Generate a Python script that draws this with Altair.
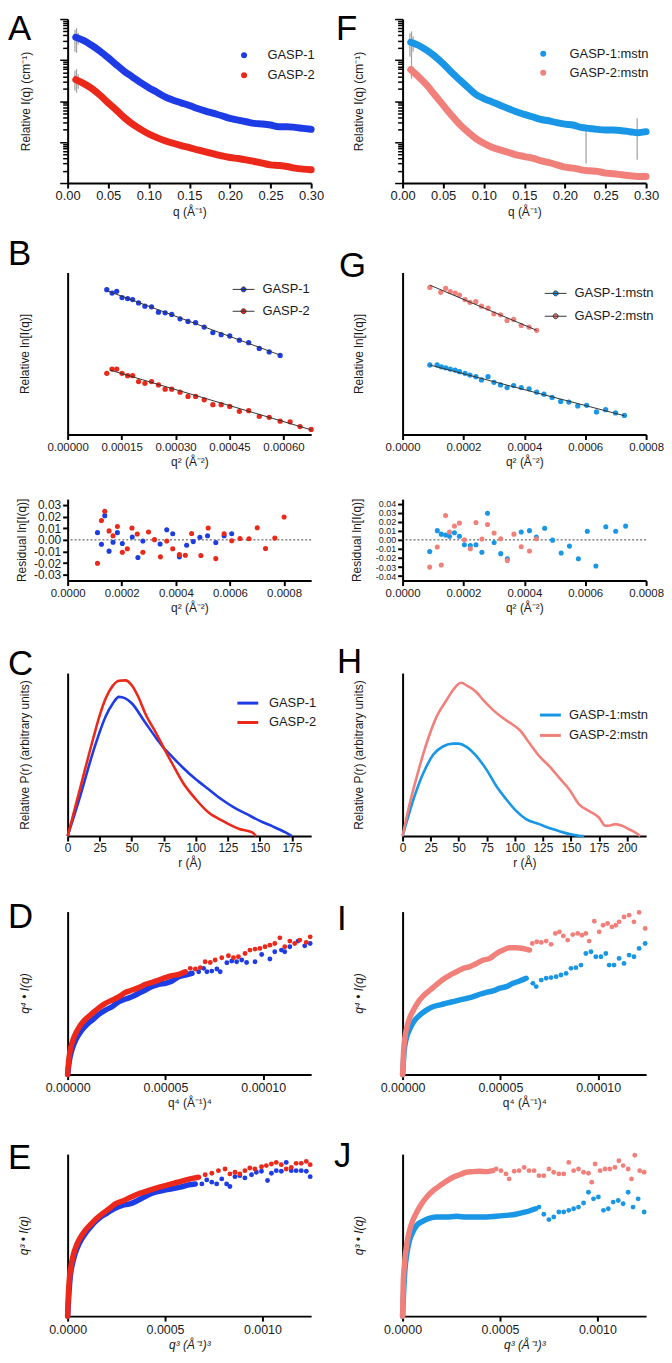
import altair as alt
import pandas as pd

FONT = "Liberation Sans"
LETTER_FONT = "Liberation Sans"
INK = "#1a1a1a"

SER_L = ["GASP-1", "GASP-2"]
SER_R = ["GASP-1:mstn", "GASP-2:mstn"]
COL_L = ["#1e3ce6", "#eb2819"]
COL_R = ["#1996e6", "#f2807a"]

W = 245
H_A, H_B, H_R, H_C, H_D, H_E = 165, 163, 82, 164, 164, 163

# ---------------- A / F : scattering profiles (log intensity) ----------------
q_saxs = [0.01, 0.02, 0.03, 0.04, 0.05, 0.06, 0.07, 0.08, 0.09, 0.10,
          0.11, 0.12, 0.13, 0.14, 0.15, 0.16, 0.17, 0.18, 0.19, 0.20,
          0.21, 0.22, 0.23, 0.24, 0.25, 0.26, 0.27, 0.28, 0.29, 0.30]
I_A_g1 = [3.60, 2.98, 2.26, 1.64, 1.135, 0.767, 0.528, 0.385, 0.281, 0.212,
          0.164, 0.126, 0.105, 0.0903, 0.0778, 0.0658, 0.0568, 0.0498, 0.0437, 0.0377,
          0.0343, 0.0313, 0.0285, 0.0275, 0.0260, 0.0237, 0.0237, 0.0228, 0.0215, 0.0204]
I_A_g2 = [0.332, 0.2655, 0.201, 0.1384, 0.0903, 0.0600, 0.0391, 0.0274, 0.0204, 0.0157,
          0.0128, 0.0108, 0.00933, 0.00818, 0.00732, 0.00643, 0.00575, 0.00514, 0.00460, 0.00419,
          0.00396, 0.00368, 0.00335, 0.00305, 0.00278, 0.00268, 0.00254, 0.00231, 0.00218, 0.00210]
I_F_m1 = [2.72, 2.26, 1.71, 1.22, 0.811, 0.509, 0.332, 0.220, 0.1466, 0.1151,
          0.0955, 0.0793, 0.0658, 0.0546, 0.0471, 0.0413, 0.0356, 0.0330, 0.0296, 0.0274,
          0.0260, 0.0228, 0.0215, 0.0204, 0.0196, 0.0196, 0.0189, 0.0179, 0.0169, 0.0179]
I_F_m2 = [0.581, 0.385, 0.242, 0.1384, 0.0793, 0.0454, 0.0274, 0.0179, 0.01233, 0.00933,
          0.00746, 0.00643, 0.00565, 0.00487, 0.00443, 0.00404, 0.00354, 0.00317, 0.00278, 0.00244,
          0.00231, 0.00210, 0.00199, 0.00192, 0.00175, 0.00168, 0.00159, 0.00151, 0.00145, 0.00145]
err_A_q = [0.009, 0.011, 0.013, 0.009, 0.011, 0.013]
err_A_lo = [1.6, 1.5, 2.4, 0.18, 0.16, 0.20]
err_A_hi = [5.5, 6.0, 4.6, 0.55, 0.60, 0.45]
err_F_q = [0.009, 0.011, 0.013, 0.011, 0.013, 0.226, 0.289]
err_F_lo = [1.2, 0.4, 1.6, 0.35, 0.45, 0.0030, 0.0037]
err_F_hi = [4.5, 5.0, 3.8, 0.75, 0.70, 0.020, 0.038]

# ---------------- B / G : Guinier plots ----------------
B_x_g1 = [0.0001088, 0.0001235, 0.0001364, 0.0001512, 0.0001668, 0.0001807, 0.0001972, 0.0002148,
          0.0002332, 0.0002525, 0.0002710, 0.0002894, 0.0003125, 0.0003346, 0.0003558, 0.0003797,
          0.0004037, 0.0004268, 0.0004507, 0.0004774, 0.0005033, 0.0005328, 0.0005604, 0.0005908]
B_y_g1 = [89.4, 87.3, 88.4, 84.5, 83.9, 83.3, 81.2, 79.2, 78.8, 75.5, 75.1, 74.1,
          71.4, 69.8, 69.0, 66.3, 62.9, 61.6, 60.8, 58.2, 56.7, 53.1, 51.0, 48.8]
B_x_g2 = [0.0001088, 0.0001235, 0.0001364, 0.0001512, 0.0001668, 0.0001807, 0.0001972, 0.0002148,
          0.0002332, 0.0002525, 0.0002710, 0.0002894, 0.0003125, 0.0003346, 0.0003558, 0.0003797,
          0.0004037, 0.0004268, 0.0004507, 0.0004774, 0.0005033, 0.0005328, 0.0005604, 0.0005908,
          0.0006185, 0.0006461, 0.0006770]
B_y_g2 = [37.8, 40.4, 40.4, 37.8, 36.3, 36.3, 32.7, 31.6, 32.7, 30.6, 28.0, 28.0, 26.1, 23.5,
          23.5, 21.4, 18.4, 18.4, 17.3, 14.3, 14.7, 11.2, 10.6, 8.2, 7.8, 4.9, 3.1]
B_fit_x_g1 = [0.0001088, 0.0005908]
B_fit_y_g1 = [88.8, 49.0]
B_fit_x_g2 = [0.0001170, 0.0006770]
B_fit_y_g2 = [39.8, 2.9]

G_x_m1 = [0.0000896, 0.0001134, 0.0001274, 0.0001414, 0.0001565, 0.0001727, 0.0001868, 0.0002051,
          0.0002213, 0.0002407, 0.0002591, 0.0002807, 0.0003001, 0.0003217, 0.0003433, 0.0003649,
          0.0003897, 0.0004156, 0.0004405, 0.0004642, 0.0004912, 0.0005193, 0.0005463, 0.0005754,
          0.0006046, 0.0006370, 0.0006672, 0.0006996, 0.0007287]
G_y_m1 = [42.9, 42.9, 41.8, 41.2, 40.4, 39.8, 38.8, 37.8, 36.7, 35.7, 33.7, 35.7, 32.2, 30.6, 29.0,
          30.2, 29.0, 28.2, 26.1, 24.9, 22.9, 20.4, 20.0, 17.6, 18.0, 13.9, 15.3, 13.3, 11.8]
G_x_m2 = [0.0000896, 0.0001252, 0.0001414, 0.0001565, 0.0001727, 0.0001868, 0.0002051, 0.0002213,
          0.0002407, 0.0002591, 0.0002807, 0.0003001, 0.0003217, 0.0003433, 0.0003649, 0.0003897,
          0.0004156, 0.0004405]
G_y_m2 = [90.8, 87.8, 90.2, 88.2, 87.3, 86.1, 83.3, 81.6, 82.0, 79.2, 78.0, 74.5, 73.9, 70.4,
          71.0, 67.3, 66.3, 64.3]
G_fit_x_m1 = [0.0000896, 0.0007287]
G_fit_y_m1 = [42.9, 11.6]
G_fit_x_m2 = [0.0000896, 0.0004405]
G_fit_y_m2 = [92.2, 64.3]

# ---------------- Guinier residuals ----------------
RL_x_g1 = [0.0001103, 0.0001250, 0.0001372, 0.0001531, 0.0001678, 0.0001838, 0.0002021, 0.0002389,
           0.0002597, 0.0002781, 0.0003418, 0.0003663, 0.0003884, 0.0004129, 0.0004398, 0.0004643,
           0.0004888, 0.0005170, 0.0005476, 0.0005783, 0.0006064]
RL_y_g1 = [0.0062, -0.0037, 0.0208, -0.0097, -0.0020, 0.0062, -0.0032, 0.0025, -0.0151, -0.0010,
           -0.0035, 0.0087, 0.0052, -0.0146, -0.0047, -0.0015, 0.0022, 0.0035, -0.0022, 0.0035, 0.0052]
RL_x_g2 = [0.0001103, 0.0001250, 0.0001372, 0.0001531, 0.0001678, 0.0001838, 0.0002021, 0.0002205,
           0.0002377, 0.0002573, 0.0002781, 0.0002989, 0.0003210, 0.0003430, 0.0003663, 0.0003884,
           0.0004129, 0.0004349, 0.0004582, 0.0004925, 0.0005195, 0.0005476, 0.0005783, 0.0006064,
           0.0006371, 0.0006701, 0.0007008, 0.0007314, 0.0007657, 0.0008000]
RL_y_g2 = [-0.0201, 0.0166, 0.0246, 0.0077, 0.0035, 0.0114, -0.0107, -0.0077, 0.0102, 0.0050,
           -0.0107, 0.0067, 0.0002, -0.0146, -0.0010, -0.0077, -0.0127, -0.0132, 0.0055, -0.0134,
           0.0102, -0.0161, 0.0052, -0.0007, 0.0012, 0.0010, 0.0104, -0.0074, 0.0015, 0.0196]
RR_x_m1 = [0.0000890, 0.0001140, 0.0001270, 0.0001411, 0.0001541, 0.0001704, 0.0001867, 0.0002030,
           0.0002225, 0.0002410, 0.0002605, 0.0002790, 0.0003007, 0.0003224, 0.0003441, 0.0003897,
           0.0004168, 0.0004396, 0.0004668, 0.0004928, 0.0005210, 0.0005482, 0.0005775, 0.0006068,
           0.0006350, 0.0006676, 0.0007001, 0.0007327]
RR_y_m1 = [-0.0129, 0.0102, 0.0063, 0.0053, 0.0040, 0.0079, 0.0040, -0.0053, -0.0063, -0.0053,
           -0.0136, 0.0294, -0.0030, -0.0152, -0.0208, 0.0086, 0.0102, 0.0030, 0.0129, -0.0003,
           -0.0145, -0.0069, -0.0208, 0.0096, -0.0288, 0.0145, 0.0096, 0.0152]
RR_x_m2 = [0.0000890, 0.0001140, 0.0001270, 0.0001411, 0.0001541, 0.0001704, 0.0001867, 0.0002030,
           0.0002225, 0.0002410, 0.0002605, 0.0002790, 0.0003007, 0.0003224, 0.0003441, 0.0003658,
           0.0003897, 0.0004168, 0.0004396]
RR_y_m2 = [-0.0301, -0.0079, -0.0278, 0.0268, 0.0086, 0.0152, 0.0185, 0.0000, -0.0099, 0.0192,
           0.0010, 0.0169, 0.0076, 0.0013, -0.0228, 0.0063, -0.0076, -0.0122, 0.0013]

# ---------------- C / H : P(r) distributions ----------------
C_r_g1 = [0, 10, 20, 30, 35, 40, 45, 50, 60, 70, 75, 80, 90, 100, 110, 120, 130, 140, 150, 160, 170, 175]
C_p_g1 = [0, 25, 52, 74, 81, 85.4, 84.5, 81.5, 70.3, 59.1, 54, 50, 41.9, 34.8, 28.7, 22.6, 17.5,
          13.4, 9.3, 5.9, 2.2, 0]
C_r_g2 = [0, 5, 10, 20, 25, 30, 35, 40, 45, 50, 55, 61, 69, 75, 82, 90, 100, 110, 121, 134, 144, 147]
C_p_g2 = [0, 15, 30, 60, 74, 85, 92, 95.3, 95.5, 92.5, 85.6, 74.4, 63.2, 54.1, 43.9, 32.7, 22.6,
          14.4, 9.3, 4.3, 2.2, 0]
H_r_m1 = [0, 9.7, 18.6, 27.4, 36.3, 45.1, 49.6, 56.9, 65.8, 74.6, 83.5, 92.3, 101.2, 110, 121.8,
          133.6, 145.4, 157.2, 161.7]
H_p_m1 = [0, 22.6, 38.8, 50, 55.1, 56.7, 56.7, 54.7, 49, 40.9, 30.7, 22.6, 15.4, 10.4, 7.3, 4.3,
          1.8, 0.2, 0]
H_r_m2 = [0, 5, 12.7, 21.5, 30.4, 39.2, 45, 52, 58, 65.7, 71.7, 80.5, 89.4, 98.2, 104.1, 113,
          121.8, 130.7, 139.5, 148.4, 157.2, 166.1, 174.9, 180.8, 185, 189.7, 195.6, 201.5, 207.4, 211.8]
H_p_m2 = [0, 16, 36.6, 57.1, 73.4, 83.5, 89.6, 94, 92, 88.4, 83.5, 77.4, 72.4, 68.3, 65.2, 57.1,
          49, 42.9, 35.8, 28.7, 19.5, 15.4, 11.4, 6.3, 6.5, 7.3, 6.3, 4.3, 2.2, 0]

# ---------------- D / I : q^4 * I(q) vs q^4 ----------------
D_bx_g1 = [0, 0.085e-5, 0.22e-5, 0.42e-5, 0.68e-5, 0.97e-5, 1.27e-5, 1.61e-5, 1.95e-5, 2.29e-5, 2.63e-5,
           2.97e-5, 3.31e-5, 3.64e-5, 3.98e-5, 4.32e-5, 4.66e-5, 5.0e-5, 5.34e-5, 5.68e-5, 6.02e-5, 6.36e-5]
D_by_g1 = [0, 8.1, 15.3, 21.4, 26.5, 30.5, 33.6, 37.1, 39.7, 41.8, 44.8, 46.4, 47.9, 49.9, 51.9, 54.0,
           55.4, 56.0, 57.4, 60.1, 61.1, 62.1]
D_px_g1 = [6.70e-5, 6.95e-5, 7.12e-5, 7.37e-5, 7.63e-5, 7.80e-5, 8.14e-5, 8.39e-5, 8.64e-5, 8.90e-5,
           9.15e-5, 9.58e-5, 9.92e-5, 10.34e-5, 10.59e-5, 10.93e-5, 11.10e-5, 11.36e-5, 11.78e-5,
           12.12e-5, 12.40e-5]
D_py_g1 = [63.1, 65.2, 63.1, 63.5, 64.8, 63.1, 68.6, 69.7, 69.2, 70.3, 68.8, 69.2, 73.7, 70.9, 75.4,
           76.4, 75.4, 78.4, 81.9, 79.0, 80.4]
D_bx_g2 = [0, 0.05e-5, 0.12e-5, 0.22e-5, 0.34e-5, 0.51e-5, 0.73e-5, 0.97e-5, 1.27e-5, 1.61e-5, 1.95e-5,
           2.29e-5, 2.63e-5, 2.97e-5, 3.31e-5, 3.64e-5, 3.98e-5, 4.32e-5, 4.66e-5, 5.0e-5, 5.34e-5,
           5.68e-5, 6.02e-5]
D_by_g2 = [0, 8.1, 14.3, 19.3, 23.4, 27.5, 31.6, 34.6, 37.7, 41.1, 43.8, 45.8, 47.9, 50.5, 51.9, 53.4,
           55.4, 56.6, 58.0, 59.5, 60.7, 61.5, 63.1]
D_px_g2 = [6.27e-5, 6.53e-5, 6.78e-5, 7.03e-5, 7.29e-5, 7.54e-5, 7.88e-5, 8.22e-5, 8.48e-5, 8.73e-5,
           9.07e-5, 9.32e-5, 9.58e-5, 9.83e-5, 10.09e-5, 10.34e-5, 10.59e-5, 10.85e-5, 11.10e-5,
           11.36e-5, 11.61e-5, 11.87e-5, 12.20e-5, 12.40e-5]
D_py_g2 = [65.2, 64.8, 65.6, 69.2, 68.8, 70.3, 71.7, 72.9, 71.7, 72.3, 74.3, 76.4, 77.0, 77.4, 78.4,
           79.4, 80.4, 83.9, 78.4, 81.9, 80.4, 82.5, 81.1, 84.5]

I_bx_m1 = [0, 0.08e-5, 0.19e-5, 0.31e-5, 0.47e-5, 0.64e-5, 0.90e-5, 1.24e-5, 1.58e-5, 1.92e-5, 2.25e-5,
           2.59e-5, 2.93e-5, 3.27e-5, 3.61e-5, 3.95e-5, 4.29e-5, 4.63e-5, 4.97e-5, 5.31e-5, 5.64e-5,
           5.98e-5, 6.32e-5]
I_by_m1 = [0, 14.3, 22.4, 26.5, 30.5, 33.6, 36.7, 39.7, 41.8, 42.8, 43.8, 44.8, 45.8, 46.8, 47.9, 49.3,
           50.5, 51.3, 53.0, 54.0, 56.0, 57.4, 59.1]
I_px_m1 = [6.66e-5, 6.83e-5, 7.09e-5, 7.34e-5, 7.59e-5, 7.85e-5, 8.10e-5, 8.36e-5, 8.61e-5, 8.86e-5,
           9.12e-5, 9.37e-5, 9.63e-5, 9.88e-5, 10.14e-5, 10.39e-5, 10.56e-5, 10.81e-5, 11.07e-5,
           11.32e-5, 11.58e-5, 11.83e-5, 12.09e-5, 12.40e-5]
I_py_m1 = [56.0, 54.0, 58.0, 59.1, 59.5, 60.1, 61.1, 62.1, 65.2, 65.6, 67.2, 74.3, 75.4, 72.3, 72.3,
           74.3, 67.2, 67.2, 71.3, 68.2, 73.3, 72.3, 77.4, 80.4]
I_bx_m2 = [0, 0.05e-5, 0.14e-5, 0.25e-5, 0.39e-5, 0.56e-5, 0.81e-5, 1.07e-5, 1.41e-5, 1.75e-5, 2.08e-5,
           2.42e-5, 2.76e-5, 3.10e-5, 3.44e-5, 3.78e-5, 4.12e-5, 4.46e-5, 4.80e-5, 5.14e-5, 5.47e-5,
           5.81e-5, 6.15e-5, 6.49e-5]
I_by_m2 = [0, 14.3, 24.4, 30.5, 35.6, 39.7, 44.8, 48.5, 51.9, 55.4, 58.5, 61.1, 63.1, 65.2, 66.2, 68.2,
           70.3, 71.3, 74.3, 76.4, 77.8, 77.8, 77.4, 76.4]
I_px_m2 = [6.63e-5, 6.86e-5, 7.09e-5, 7.34e-5, 7.59e-5, 7.81e-5, 8.02e-5, 8.22e-5, 8.44e-5, 8.70e-5,
           8.95e-5, 9.17e-5, 9.37e-5, 9.54e-5, 9.80e-5, 10.05e-5, 10.25e-5, 10.48e-5, 10.70e-5,
           10.90e-5, 11.07e-5, 11.32e-5, 11.58e-5, 11.83e-5, 12.09e-5, 12.40e-5]
I_py_m2 = [80.4, 81.5, 81.1, 81.9, 79.9, 86.6, 87.6, 85.1, 82.5, 85.9, 86.6, 85.5, 86.6, 81.9, 94.1,
           87.6, 91.6, 92.7, 90.6, 91.6, 93.7, 96.7, 97.8, 93.7, 99.5, 89.6]

# ---------------- E / J : q^3 * I(q) vs q^3 ----------------
E_bx_g1 = [0, 0.068e-4, 0.136e-4, 0.255e-4, 0.39e-4, 0.60e-4, 0.85e-4, 1.11e-4, 1.41e-4, 1.70e-4,
           2.04e-4, 2.38e-4, 2.81e-4, 3.23e-4, 3.66e-4, 4.08e-4, 4.51e-4, 4.93e-4, 5.36e-4, 5.78e-4,
           6.21e-4, 6.55e-4]
E_by_g1 = [0, 14.3, 24.5, 32.7, 38.8, 44.9, 50.0, 54.1, 58.2, 61.2, 63.7, 66.3, 68.4, 69.4, 71.8, 74.5,
           76.5, 77.6, 78.6, 79.6, 81.0, 81.6]
E_px_g1 = [6.89e-4, 7.14e-4, 7.40e-4, 7.65e-4, 7.91e-4, 8.16e-4, 8.33e-4, 8.59e-4, 8.84e-4, 9.10e-4,
           9.44e-4, 9.69e-4, 9.95e-4, 10.26e-4, 10.46e-4, 10.71e-4, 10.97e-4, 11.22e-4, 11.48e-4,
           11.73e-4, 11.99e-4, 12.25e-4, 12.45e-4]
E_py_g1 = [81.6, 84.1, 82.7, 81.6, 84.7, 81.6, 80.0, 86.1, 86.7, 85.3, 87.3, 88.8, 89.4, 83.7, 88.2,
           89.8, 89.4, 94.9, 89.8, 89.8, 89.8, 89.4, 86.1]
E_bx_g2 = [0, 0.034e-4, 0.085e-4, 0.17e-4, 0.29e-4, 0.46e-4, 0.68e-4, 0.94e-4, 1.19e-4, 1.48e-4,
           1.79e-4, 2.13e-4, 2.47e-4, 2.89e-4, 3.32e-4, 3.74e-4, 4.17e-4, 4.59e-4, 5.02e-4, 5.44e-4,
           5.87e-4, 6.29e-4, 6.72e-4]
E_by_g2 = [0, 12.2, 22.4, 30.6, 37.8, 43.9, 49.0, 53.5, 56.7, 60.2, 63.3, 66.3, 69.4, 71.4, 73.9, 75.9,
           77.6, 79.2, 80.6, 82.0, 83.3, 84.7, 85.7]
E_px_g2 = [7.06e-4, 7.40e-4, 7.74e-4, 8.08e-4, 8.33e-4, 8.59e-4, 8.84e-4, 9.10e-4, 9.35e-4, 9.61e-4,
           9.95e-4, 10.20e-4, 10.46e-4, 10.71e-4, 10.97e-4, 11.22e-4, 11.48e-4, 11.73e-4, 11.99e-4,
           12.25e-4, 12.45e-4]
E_py_g2 = [87.3, 88.2, 89.8, 90.8, 87.8, 88.8, 87.8, 89.8, 91.4, 90.8, 92.2, 92.9, 93.9, 94.9, 93.5,
           90.8, 91.8, 94.3, 94.3, 95.5, 93.5]

J_bx_m1 = [0, 0.05e-4, 0.12e-4, 0.22e-4, 0.36e-4, 0.53e-4, 0.73e-4, 0.98e-4, 1.32e-4, 1.75e-4, 2.25e-4,
           2.76e-4, 3.27e-4, 3.78e-4, 4.29e-4, 4.80e-4, 5.31e-4, 5.81e-4, 6.32e-4, 6.83e-4]
J_by_m1 = [0, 14.3, 28.6, 38.8, 46.9, 52.0, 56.1, 58.2, 60.2, 61.2, 61.2, 61.6, 61.2, 61.2, 61.2, 61.6,
           62.2, 62.9, 64.3, 66.3]
J_px_m1 = [7.00e-4, 7.25e-4, 7.51e-4, 7.76e-4, 8.02e-4, 8.27e-4, 8.53e-4, 8.78e-4, 9.03e-4, 9.29e-4,
           9.54e-4, 9.80e-4, 10.05e-4, 10.31e-4, 10.56e-4, 10.81e-4, 11.07e-4, 11.32e-4, 11.58e-4,
           11.83e-4, 12.09e-4, 12.40e-4]
J_py_m1 = [67.3, 62.9, 59.6, 61.2, 64.3, 64.3, 65.3, 66.3, 67.3, 69.8, 76.5, 72.4, 73.5, 65.3, 66.3,
           70.4, 71.4, 69.4, 76.5, 67.3, 72.4, 64.3]
J_bx_m2 = [0, 0.034e-4, 0.10e-4, 0.22e-4, 0.36e-4, 0.53e-4, 0.73e-4, 0.98e-4, 1.24e-4, 1.58e-4, 1.92e-4,
           2.25e-4, 2.59e-4, 2.93e-4, 3.27e-4, 3.61e-4, 3.95e-4, 4.29e-4, 4.63e-4]
J_by_m2 = [0, 20.4, 32.7, 44.9, 53.1, 59.2, 64.3, 69.4, 73.5, 77.6, 80.6, 83.3, 85.7, 87.3, 88.8, 89.2,
           89.4, 89.2, 89.8]
J_px_m2 = [4.80e-4, 5.05e-4, 5.31e-4, 5.47e-4, 5.73e-4, 5.98e-4, 6.24e-4, 6.49e-4, 6.75e-4, 7.00e-4,
           7.25e-4, 7.51e-4, 7.76e-4, 8.02e-4, 8.27e-4, 8.53e-4, 8.78e-4, 9.03e-4, 9.29e-4, 9.54e-4,
           9.71e-4, 9.88e-4, 10.14e-4, 10.39e-4, 10.64e-4, 10.90e-4, 11.10e-4, 11.32e-4, 11.58e-4,
           11.75e-4, 11.92e-4, 12.17e-4, 12.40e-4]
J_py_m2 = [90.8, 89.8, 87.8, 84.7, 89.4, 89.8, 91.8, 89.8, 89.8, 86.7, 86.7, 90.8, 88.8, 87.8, 87.8,
           94.9, 89.8, 90.8, 88.8, 88.2, 82.7, 93.9, 89.8, 90.8, 90.8, 91.8, 95.9, 92.9, 90.8, 84.7,
           99.3, 89.8, 88.8]

# ---------------- axis tick lists ----------------
ticks_q = [0, 0.05, 0.10, 0.15, 0.20, 0.25, 0.30]
ticks_log = [m * d for d in [0.001, 0.01, 0.1, 1] for m in range(1, 10)] + [10]
ticks_B = [0, 0.00015, 0.0003, 0.00045, 0.0006]
ticks_G = [0, 0.0002, 0.0004, 0.0006, 0.0008]
ticks_res_x = [0, 0.0002, 0.0004, 0.0006, 0.0008]
ticks_resL_y = [-0.03, -0.02, -0.01, 0, 0.01, 0.02, 0.03]
ticks_resR_y = [-0.04, -0.03, -0.02, -0.01, 0, 0.01, 0.02, 0.03, 0.04]
ticks_C = [0, 25, 50, 75, 100, 125, 150, 175]
ticks_H = [0, 25, 50, 75, 100, 125, 150, 175, 200]
ticks_D = [0, 0.00005, 0.0001]
ticks_E = [0, 0.0005, 0.001]

MAJOR_TEST = "abs(log(datum.value)/LN10 - round(log(datum.value)/LN10)) < 0.001"
LINE_DOT = "M-2,0L2,0M-0.45,0A0.45,0.45,0,1,0,0.45,0A0.45,0.45,0,1,0,-0.45,0Z"
LINE_ONLY = "M-2,0L2,0"

one = pd.DataFrame({"k": [0]})


def xaxis(title, values, fmt, italic=False, lsize=12):
    return alt.Axis(title=title, values=values, format=fmt, grid=False,
                    domainColor="black", domainWidth=2, tickColor="black", tickWidth=2, tickSize=5,
                    labelFont=FONT, labelFontSize=lsize, labelColor=INK, labelPadding=2,
                    labelFlush=False, labelOverlap=False,
                    titleFont=FONT, titleFontSize=12, titleFontWeight="normal", titleColor=INK,
                    titleFontStyle="italic" if italic else "normal", titlePadding=4)


def yaxis_plain(title, h, tx, italic=False):
    return alt.Axis(title=title, labels=False, ticks=False, grid=False,
                    domainColor="black", domainWidth=2,
                    titleFont=FONT, titleFontSize=12, titleFontWeight="normal", titleColor=INK,
                    titleFontStyle="italic" if italic else "normal",
                    titleAngle=270, titleAlign="center", titleBaseline="bottom",
                    titleX=tx, titleY=h / 2)


def legend(**kw):
    base = dict(orient="none", title=None, labelFont=FONT, labelFontSize=13, labelColor=INK, padding=0)
    base.update(kw)
    return alt.Legend(**base)


def letter(ch, dx, dy):
    return alt.Chart(one).mark_text(text=ch, font=LETTER_FONT, fontSize=35, align="left",
                                    baseline="alphabetic", color="black").encode(
        x=alt.value(dx), y=alt.value(dy))


def long_df(xs_list, ys_list, names):
    rows = []
    for xs, ys, n in zip(xs_list, ys_list, names):
        rows += [{"x": a, "y": b, "s": n} for a, b in zip(xs, ys)]
    return pd.DataFrame(rows)


def saxs_panel(ys, names, cols, err, leg, let, ytx):
    xsc = alt.Scale(domain=[0, 0.3], nice=False, zero=False)
    ysc = alt.Scale(type="log", domain=[0.001, 10], nice=False)
    xax = xaxis("q (Å⁻¹)", ticks_q, ".2f", lsize=13)
    yax = alt.Axis(title="Relative I(q) (cm⁻¹)", values=ticks_log, labels=False, grid=False,
                   domainColor="black", domainWidth=2, tickColor="black", tickWidth=1.5,
                   tickSize={"condition": {"test": MAJOR_TEST, "value": 8}, "value": 5},
                   titleFont=FONT, titleFontSize=12, titleFontWeight="normal", titleColor=INK,
                   titleAngle=270, titleAlign="center", titleBaseline="bottom",
                   titleX=ytx, titleY=H_A / 2)
    df = long_df([q_saxs, q_saxs], ys, names)
    dferr = pd.DataFrame({"x": err[0], "lo": err[1], "hi": err[2]})
    cs = alt.Scale(domain=names, range=cols)
    e = alt.Chart(dferr).mark_rule(color="#a0a0a0", strokeWidth=1.2).encode(
        x=alt.X("x:Q", scale=xsc, axis=xax), y=alt.Y("lo:Q", scale=ysc, axis=yax), y2="hi:Q")
    p = alt.Chart(df).mark_circle(size=30, opacity=1).encode(
        x=alt.X("x:Q", scale=xsc, axis=xax), y=alt.Y("y:Q", scale=ysc, axis=yax),
        color=alt.Color("s:N", scale=cs, legend=leg))
    b = alt.Chart(df).mark_line(strokeWidth=7, interpolate="monotone", strokeCap="round",
                                strokeJoin="round").encode(
        x=alt.X("x:Q", scale=xsc, axis=xax), y=alt.Y("y:Q", scale=ysc, axis=yax),
        color=alt.Color("s:N", scale=cs, legend=None))
    return alt.layer(e, p, b, letter(*let)).properties(width=W, height=H_A)


def guinier_panel(pts, fits, names, cols, xdom, xticks, xfmt, leg, let, ytx):
    xsc = alt.Scale(domain=[0, xdom], nice=False, zero=False)
    ysc = alt.Scale(domain=[0, 100], nice=False, zero=False)
    xax = xaxis("q² (Å⁻²)", xticks, xfmt, lsize=11.5)
    yax = yaxis_plain("Relative ln[I(q)]", H_B, ytx)
    cs = alt.Scale(domain=names, range=cols)
    dfp = long_df([pts[0], pts[2]], [pts[1], pts[3]], names)
    dff = long_df([fits[0], fits[2]], [fits[1], fits[3]], names)
    p = alt.Chart(dfp).mark_circle(size=28, opacity=1).encode(
        x=alt.X("x:Q", scale=xsc, axis=xax), y=alt.Y("y:Q", scale=ysc, axis=yax),
        color=alt.Color("s:N", scale=cs, legend=leg))
    f = alt.Chart(dff).mark_line(color="#333333", strokeWidth=1).encode(
        x=alt.X("x:Q", scale=xsc, axis=xax), y=alt.Y("y:Q", scale=ysc, axis=yax), detail="s:N")
    return alt.layer(p, f, letter(*let)).properties(width=W, height=H_B)


def resid_panel(series, xdom, ydom, yticks, ytx, lsize):
    xsc = alt.Scale(domain=[0, xdom], nice=False, zero=False)
    ysc = alt.Scale(domain=[-ydom, ydom], nice=False, zero=False)
    xax = xaxis("q² (Å⁻²)", ticks_res_x, ".4f", lsize=11.5)
    yax = alt.Axis(title="Residual ln[I(q)]", values=yticks, grid=False,
                   labelExpr="replace(format(datum.value, '.2f'), '\u2212', '-')",
                   domainColor="black", domainWidth=2, tickColor="black", tickWidth=2, tickSize=5,
                   labelFont=FONT, labelFontSize=lsize, labelColor=INK, labelPadding=2,
                   labelOverlap=False, labelFlush=False,
                   titleFont=FONT, titleFontSize=12, titleFontWeight="normal", titleColor=INK,
                   titleAngle=270, titleAlign="center", titleBaseline="bottom",
                   titleX=ytx, titleY=H_R / 2)
    zero = alt.Chart(one).mark_rule(color="#444444", strokeDash=[2, 2], strokeWidth=1).encode(
        y=alt.YDatum(0, scale=ysc, axis=yax))
    layers = [zero]
    for xs, ys, col in series:
        d = pd.DataFrame({"x": xs, "y": ys})
        layers.append(alt.Chart(d).mark_circle(size=26, opacity=1, color=col).encode(
            x=alt.X("x:Q", scale=xsc, axis=xax), y=alt.Y("y:Q", scale=ysc, axis=yax)))
    return alt.layer(*layers).properties(width=W, height=H_R)


def pr_panel(series, names, cols, xdom, xticks, leg, let, ytx):
    xsc = alt.Scale(domain=[0, xdom], nice=False, zero=False)
    ysc = alt.Scale(domain=[0, 100], nice=False, zero=False)
    xax = xaxis("r (Å)", xticks, "d")
    yax = yaxis_plain("Relative P(r) (arbitrary units)", H_C, ytx)
    cs = alt.Scale(domain=names, range=cols)
    df = long_df([series[0], series[2]], [series[1], series[3]], names)
    l = alt.Chart(df).mark_line(strokeWidth=2.6, interpolate="monotone").encode(
        x=alt.X("x:Q", scale=xsc, axis=xax), y=alt.Y("y:Q", scale=ysc, axis=yax),
        color=alt.Color("s:N", scale=cs, legend=leg))
    return alt.layer(l, letter(*let)).properties(width=W, height=H_C)


def porod_panel(series, xdom, xticks, xfmt, xtitle, ytitle, h, let, ytx, italic_x):
    xsc = alt.Scale(domain=[0, xdom], nice=False, zero=False)
    ysc = alt.Scale(domain=[0, 100], nice=False, zero=False)
    xax = xaxis(xtitle, xticks, xfmt, italic=italic_x, lsize=12.5)
    yax = yaxis_plain(ytitle, h, ytx, italic=True)
    layers = []
    for bx, by, px, py, col in series:
        dfb = pd.DataFrame({"x": bx, "y": by})
        dfp = pd.DataFrame({"x": px, "y": py})
        layers.append(alt.Chart(dfb).mark_line(color=col, strokeWidth=5.5, interpolate="monotone",
                                               strokeCap="round", strokeJoin="round").encode(
            x=alt.X("x:Q", scale=xsc, axis=xax), y=alt.Y("y:Q", scale=ysc, axis=yax)))
        layers.append(alt.Chart(dfp).mark_circle(size=24, opacity=1, color=col).encode(
            x=alt.X("x:Q", scale=xsc, axis=xax), y=alt.Y("y:Q", scale=ysc, axis=yax)))
    layers.append(letter(*let))
    return alt.layer(*layers).properties(width=W, height=h)


# ---------------- panels ----------------
pA = saxs_panel([I_A_g1, I_A_g2], SER_L, COL_L, (err_A_q, err_A_lo, err_A_hi),
                legend(legendX=171, legendY=30, symbolType="circle", symbolSize=36,
                       symbolStrokeWidth=0, labelOffset=17, rowPadding=6),
                ("A", -60, 21), -35)
pF = saxs_panel([I_F_m1, I_F_m2], SER_R, COL_R, (err_F_q, err_F_lo, err_F_hi),
                legend(legendX=135, legendY=28.5, symbolType="circle", symbolSize=36,
                       symbolStrokeWidth=0, labelOffset=20, rowPadding=5),
                ("F", -67, 21), -37)

pB = guinier_panel((B_x_g1, B_y_g1, B_x_g2, B_y_g2),
                   (B_fit_x_g1, B_fit_y_g1, B_fit_x_g2, B_fit_y_g2),
                   SER_L, COL_L, 0.000677, ticks_B, ".5f",
                   legend(legendX=170.5, legendY=10.5, symbolType=LINE_DOT, symbolSize=121,
                          symbolStrokeColor="#333333", symbolStrokeWidth=1,
                          labelOffset=12.5, rowPadding=8),
                   ("B", -60, -8), -36)
pG = guinier_panel((G_x_m1, G_y_m1, G_x_m2, G_y_m2),
                   (G_fit_x_m1, G_fit_y_m1, G_fit_x_m2, G_fit_y_m2),
                   SER_R, COL_R, 0.0008, ticks_G, ".4f",
                   legend(legendX=147.5, legendY=14.5, symbolType=LINE_DOT, symbolSize=121,
                          symbolStrokeColor="#333333", symbolStrokeWidth=1,
                          labelOffset=12.5, rowPadding=9),
                   ("G", -64, 5), -37)

pRL = resid_panel([(RL_x_g1, RL_y_g1, COL_L[0]), (RL_x_g2, RL_y_g2, COL_L[1])],
                  0.0009, 0.035, ticks_resL_y, -39, 12)
pRR = resid_panel([(RR_x_m1, RR_y_m1, COL_R[0]), (RR_x_m2, RR_y_m2, COL_R[1])],
                  0.0008, 0.045, ticks_resR_y, -39, 9)

pC = pr_panel((C_r_g1, C_p_g1, C_r_g2, C_p_g2), SER_L, COL_L, 190, ticks_C,
              legend(legendX=174.25, legendY=23.25, symbolType=LINE_ONLY, symbolSize=110,
                     symbolStrokeWidth=3, labelOffset=14.25, rowPadding=5.5),
              ("C", -60, 2), -36)
pH = pr_panel((H_r_m1, H_p_m1, H_r_m2, H_p_m2), SER_R, COL_R, 217, ticks_H,
              legend(legendX=141.75, legendY=35.25, symbolType=LINE_ONLY, symbolSize=110,
                     symbolStrokeWidth=3, labelOffset=11.75, rowPadding=6.5),
              ("H", -66, 0), -37)

pD = porod_panel([(D_bx_g1, D_by_g1, D_px_g1, D_py_g1, COL_L[0]),
                  (D_bx_g2, D_by_g2, D_px_g2, D_py_g2, COL_L[1])],
                 0.0001245, ticks_D, ".5f", "q⁴ (Å⁻¹)⁴", "q⁴ • I(q)", H_D, ("D", -60, 17), -36, False)
pI = porod_panel([(I_bx_m1, I_by_m1, I_px_m1, I_py_m1, COL_R[0]),
                  (I_bx_m2, I_by_m2, I_px_m2, I_py_m2, COL_R[1])],
                 0.0001245, ticks_D, ".5f", "q⁴ (Å⁻¹)⁴", "q⁴ • I(q)", H_D, ("I", -66, 19), -37, False)
pE = porod_panel([(E_bx_g1, E_by_g1, E_px_g1, E_py_g1, COL_L[0]),
                  (E_bx_g2, E_by_g2, E_px_g2, E_py_g2, COL_L[1])],
                 0.00125, ticks_E, ".4f", "q³ (Å⁻¹)³", "q³ • I(q)", H_E, ("E", -60, 15), -37, True)
pJ = porod_panel([(J_bx_m1, J_by_m1, J_px_m1, J_py_m1, COL_R[0]),
                  (J_bx_m2, J_by_m2, J_px_m2, J_py_m2, COL_R[1])],
                 0.00125, ticks_E, ".4f", "q³ (Å⁻¹)³", "q³ • I(q)", H_E, ("J", -69, 13), -37, True)


def spacer(h):
    return alt.Chart(one).mark_point(opacity=0).encode(x=alt.value(0), y=alt.value(0)).properties(
        width=W, height=h)


cells = [pA, pF, spacer(90), spacer(90),
         pB, pG, spacer(65), spacer(65),
         pRL, pRR, spacer(93), spacer(93),
         pC, pH, spacer(76), spacer(76),
         pD, pI, spacer(80), spacer(80),
         pE, pJ]

chart = alt.concat(
    *cells, columns=2, spacing={"row": 0, "column": 92}, bounds="flush",
).resolve_scale(x="independent", y="independent", color="independent").resolve_legend(
    color="independent").properties(padding=0).configure(font=FONT).configure_view(
    stroke=None, strokeWidth=0)

chart.save("out.html", embed_options={"renderer": "svg", "actions": False})
